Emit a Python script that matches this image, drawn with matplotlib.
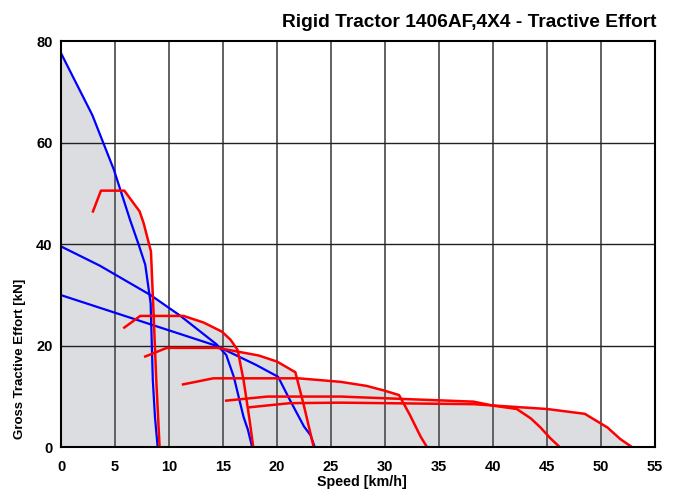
import numpy as np
import matplotlib
matplotlib.use('Agg')
import matplotlib.pyplot as plt

plt.rcParams['font.family'] = ['Liberation Sans', 'DejaVu Sans']

# curvas de esfuerzo de traccion (velocidad km/h, fuerza kN)
blue1_v = [0, 2.9, 4.9, 6.4, 7.2, 7.8, 8.3, 8.5, 8.7, 8.95]
blue1_f = [77.7, 65.5, 54.7, 44.8, 39.9, 36.0, 28.4, 13.3, 6.0, 0]
blue2_v = [0, 3.6, 8.3, 11.0, 14.4, 15.3, 16.0, 16.9, 17.3, 17.7]
blue2_f = [39.6, 35.8, 30.0, 26.0, 20.3, 18.2, 13.9, 6.0, 3.5, 0]
blue3_v = [0, 14.4, 18.1, 20.1, 21.2, 22.5, 23.1, 23.5]
blue3_f = [30.0, 20.0, 16.2, 13.9, 9.3, 4.1, 2.4, 0]

red1_v = [2.96, 3.7, 5.86, 7.28, 7.65, 8.33, 8.57, 8.82, 9.13, 9.4]
red1_f = [46.5, 50.6, 50.6, 46.5, 44.2, 38.6, 26.4, 13.3, 0, 0]
red2_v = [5.86, 7.34, 11.35, 13.2, 14.9, 15.7, 16.35, 16.9, 17.46, 17.8, 18.3]
red2_f = [23.6, 25.9, 25.9, 24.6, 22.8, 21.2, 19.2, 13.3, 5.4, 0, 0]
red3_v = [7.8, 9.8, 14.5, 18.3, 20.0, 21.7, 22.46, 23.4, 24.3]
red3_f = [17.9, 19.6, 19.6, 18.1, 16.9, 14.8, 8.5, 0, 0]
red4_v = [11.3, 14.1, 22.0, 25.9, 28.3, 29.9, 31.3, 32.3, 33.3, 33.9, 34.8]
red4_f = [12.4, 13.6, 13.6, 12.9, 12.1, 11.2, 10.3, 6.4, 2.1, 0, 0]
red5_v = [15.3, 19.1, 25.9, 38.2, 40.05, 42.2, 43.5, 44.4, 45.3, 46.2, 47.1]
red5_f = [9.2, 10.0, 10.0, 9.0, 8.2, 7.55, 5.7, 3.9, 1.8, 0, 0]
red6_v = [17.5, 21.2, 25.9, 38.2, 45.0, 48.5, 50.6, 51.8, 52.9, 54.1]
red6_f = [7.9, 8.7, 8.8, 8.5, 7.55, 6.6, 3.9, 1.6, 0, 0]

blues = [(blue1_v, blue1_f), (blue2_v, blue2_f), (blue3_v, blue3_f)]
reds = [(red1_v, red1_f), (red2_v, red2_f), (red3_v, red3_f),
        (red4_v, red4_f), (red5_v, red5_f), (red6_v, red6_f)]

fig = plt.figure(figsize=(6.76, 4.9), dpi=100)
ax = fig.add_axes([61 / 676, 1 - 447.3 / 490, 594 / 676, 405.8 / 490])

# zona gris = envolvente de todas las curvas
grid_v = np.linspace(0, 55, 2000)
env = np.zeros_like(grid_v)
for v, f in blues + reds:
    env = np.maximum(env, np.interp(grid_v, v, f, left=0, right=0))
ax.fill_between(grid_v, 0, env, color='#dcdde0', lw=0, zorder=0.5)

for x in range(5, 55, 5):
    ax.axvline(x, color='#555555', lw=1.3, zorder=1)
for y in range(20, 80, 20):
    ax.axhline(y, color='#222222', lw=1.0, zorder=1)

for v, f in blues:
    ax.plot(v, f, color='#0000ff', lw=1.6, zorder=2, solid_joinstyle='round')
for v, f in reds:
    ax.plot(v, f, color='#ff0000', lw=1.8, zorder=3, solid_joinstyle='round')

ax.set_xlim(0, 55)
ax.set_ylim(0, 80)
ax.set_xticks(range(0, 56, 5))
ax.set_yticks(range(0, 81, 20))
ax.tick_params(length=0, labelsize=10.5)
ax.tick_params(axis='x', pad=9.5)
ax.tick_params(axis='y', pad=6)
for lab in ax.get_xticklabels() + ax.get_yticklabels():
    lab.set_fontweight('bold')
for s in ax.spines.values():
    s.set_linewidth(1.5)
    s.set_zorder(4)

fig.text(656 / 676, 1 - 26.7 / 490, 'Rigid Tractor 1406AF,4X4 - Tractive Effort',
         ha='right', va='baseline', fontsize=13.8, fontweight='bold')
fig.text(361.7 / 676, 1 - 481.5 / 490, 'Speed [km/h]', ha='center', va='center',
         fontsize=10.3, fontweight='bold')
fig.text(20 / 676, 1 - 359 / 490, 'Gross Tractive Effort [kN]', ha='center', va='center',
         rotation=90, fontsize=9.5, fontweight='bold')

fig.savefig('out.png', dpi=100)
